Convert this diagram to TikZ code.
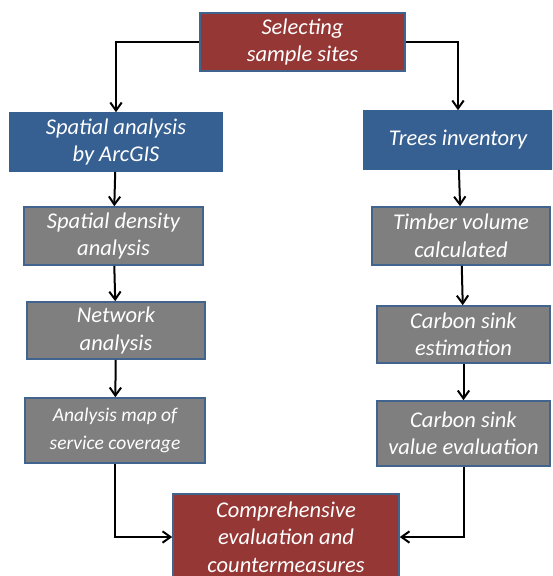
\documentclass[tikz,border=0pt]{standalone}
\usepackage{fontspec}
\setmainfont{Carlito}
\usetikzlibrary{arrows.meta,positioning}
\definecolor{SiteRed}{HTML}{953735}
\definecolor{GisBlue}{HTML}{376092}
\definecolor{StepGrey}{HTML}{7F7F7F}
\definecolor{EdgeBlue}{HTML}{41648F}

\begin{document}
\begin{tikzpicture}[
  x=1pt,y=-1pt,
  every node/.style={font=\fontsize{22.5}{27.5}\selectfont\itshape,align=center,
    text=white,inner sep=0pt},
  redbox/.style={draw=EdgeBlue,line width=1.6pt,fill=SiteRed},
  bluebox/.style={draw=GisBlue,line width=1.6pt,fill=GisBlue},
  greybox/.style={draw=EdgeBlue,line width=1.6pt,fill=StepGrey},
  flow/.style={-{Straight Barb[length=2.8mm,width=4mm,line width=2pt]},
    line width=2pt,black}
]
\useasboundingbox (0,0) rectangle (552,576);
\clip (0,0) rectangle (552,576);
\node[redbox,minimum width=205pt,minimum height=58pt] (sel) at (302.5,42)
  {Selecting\\sample sites};
\node[bluebox,minimum width=212pt,minimum height=58pt] (spatial) at (116,142)
  {Spatial analysis\\by ArcGIS};
\node[bluebox,minimum width=188pt,minimum height=58pt] (trees) at (458,140)
  {Trees inventory};
\node[greybox,minimum width=179pt,minimum height=58pt] (density) at (113.5,236)
  {Spatial density\\analysis};
\node[greybox,minimum width=178pt,minimum height=57pt] (network) at (116,330.5)
  {Network\\analysis};
\node[greybox,minimum width=180pt,minimum height=65pt,
  font=\fontsize{19.5}{27.5}\selectfont\itshape] (mapcov) at (115,430.5)
  {Analysis map of\\service coverage};
\node[greybox,minimum width=178pt,minimum height=58pt] (timber) at (461,236)
  {Timber volume\\calculated};
\node[greybox,minimum width=173pt,minimum height=57pt] (carbest) at (463.5,334.5)
  {Carbon sink\\estimation};
\node[greybox,minimum width=173pt,minimum height=65pt] (carbval) at (463.5,433.5)
  {Carbon sink\\value evaluation};
\node[redbox,minimum width=226pt,minimum height=86pt] (comp) at (286,537)
  {Comprehensive\\evaluation and\\countermeasures};

\draw[flow] (sel.west) -| (spatial);
\draw[flow] (sel.east) -| (trees);
\draw[flow] (spatial) -- (density);
\draw[flow] (density) -- (network);
\draw[flow] (network) -- (mapcov);
\draw[flow] (trees) -- (timber);
\draw[flow] (timber) -- (carbest);
\draw[flow] (carbest) -- (carbval);
\draw[flow] (mapcov) |- (comp);
\draw[flow] (carbval) |- (comp);
\end{tikzpicture}
\end{document}
